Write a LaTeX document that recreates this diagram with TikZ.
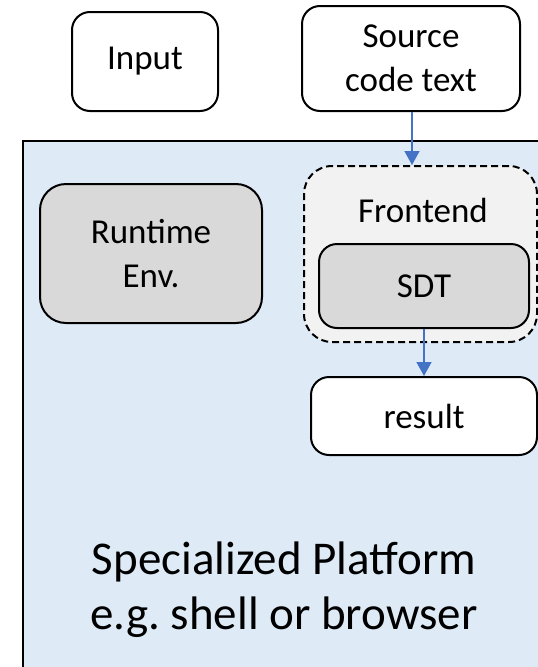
\documentclass[tikz,border=0pt]{standalone}
\usepackage{fontspec}
\setmainfont{Carlito}
\usetikzlibrary{arrows.meta}
\definecolor{platblue}{HTML}{DEEBF7}
\definecolor{fegray}{HTML}{F2F2F2}
\definecolor{boxgray}{HTML}{D9D9D9}
\definecolor{arrowblue}{HTML}{4472C4}
\frenchspacing
\tikzset{
  rbox/.style={draw=black, line width=2pt, rounded corners=18pt, fill=white,
    align=center, font=\fontsize{35}{44}\selectfont, inner sep=0pt},
  graybox/.style={rbox, fill=boxgray},
  febox/.style={draw=black, line width=2pt, dash pattern=on 7pt off 4pt,
    rounded corners=28pt, fill=fegray},
  flow/.style={draw=arrowblue, line width=1.5pt, -{Triangle[length=14pt,width=15pt]}},
  plain/.style={align=center, inner sep=0pt}
}
\begin{document}
\begin{tikzpicture}[x=1pt,y=-1pt]
\clip (0,0) rectangle (538,667);
\fill[white] (0,0) rectangle (538,667);
% platform
\draw[line width=2.2pt, fill=platblue] (23,141) rectangle (570,700);
% top boxes
\node[rbox, minimum width=146pt, minimum height=99pt] (input) at (145,61.5) {Input};
\node[rbox, minimum width=218pt, minimum height=105pt] (source) at (411,58.5) {Source\\code text};
% runtime
\node[graybox, rounded corners=26pt, minimum width=222pt, minimum height=139pt] (runtime) at (151,253.5) {Runtime\\Env.};
% frontend
\node[febox, minimum width=233pt, minimum height=176pt, inner sep=0pt] (frontend) at (420.5,254) {};
\node[plain, font=\fontsize{35}{44}\selectfont] (felabel) at (423,210) {Frontend};
\node[graybox, minimum width=210pt, minimum height=84pt] (sdt) at (424,286) {SDT};
% result
\node[rbox, minimum width=226pt, minimum height=78pt] (result) at (424,416) {result};
% arrows
\draw[flow] (source.south -| 412,0) -- (412,0 |- frontend.north);
\draw[flow] (sdt.south) -- (result.north);
% platform label
\node[plain, font=\fontsize{47}{55}\selectfont] (platlabel) at (284,590) {Specialized Platform\\e.g. shell or browser};
\end{tikzpicture}
\end{document}
